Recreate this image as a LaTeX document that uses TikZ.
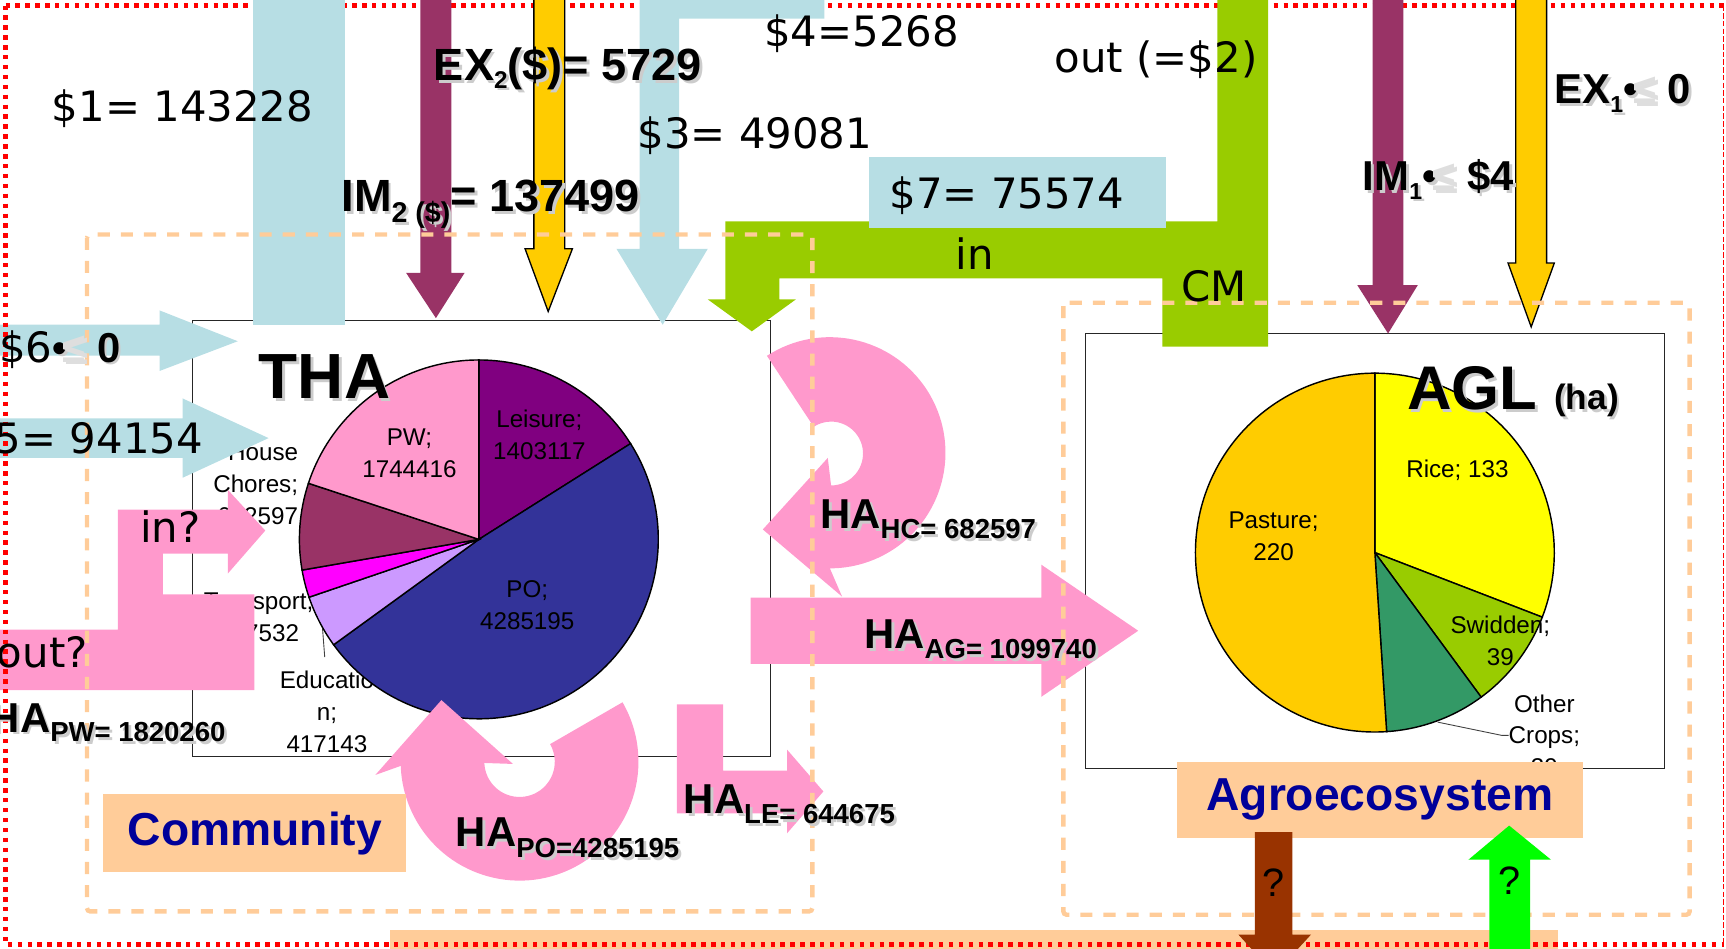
\documentclass[tikz,border=0pt]{standalone}
\usepackage{fontspec}
\setmainfont{Liberation Sans}
\newfontfamily\dejavu{DejaVu Sans}
\usepackage{xcolor}
\usepackage{tikz}
\usetikzlibrary{calc}

\definecolor{flowblue}{RGB}{183,222,228}
\definecolor{flowmaroon}{HTML}{993366}
\definecolor{flowyellow}{HTML}{FFCC00}
\definecolor{flowgreen}{HTML}{99CC00}
\definecolor{flowpink}{HTML}{FF99CC}
\definecolor{peach}{HTML}{FFCC99}
\definecolor{navytext}{HTML}{000099}
\definecolor{leisurec}{HTML}{800080}
\definecolor{poc}{HTML}{333399}
\definecolor{educ}{HTML}{CC99FF}
\definecolor{transc}{HTML}{FF00FF}
\definecolor{ricec}{HTML}{FFFF00}
\definecolor{otherc}{HTML}{339966}
\definecolor{soilbrown}{HTML}{993300}
\definecolor{limec}{HTML}{00FF00}

% lowered small text (drop, size, text)
\newcommand{\lowtxt}[3]{\raisebox{-#1pt}{\fontsize{#2}{#2}\selectfont #3}}
% grey drop shadow behind bold labels
\newcommand{\shadowed}[1]{\makebox[0pt][l]{\hspace{2.5pt}\raisebox{-2.5pt}{\color{black!20}#1}}#1}
% faint leftover of the less-or-equal sign
\newcommand{\faintle}{\kern-4pt{\color{black!13}≤}}
% one pie wedge: centre, from, to, radius, colour
\newcommand{\pieslice}[5]{\filldraw[slice, fill=#5] (#1) -- ++(#2:#4) arc[start angle=#2, end angle=#3, radius=#4] -- cycle;}

\begin{document}
\begin{tikzpicture}[
  x=1pt, y=-1pt,
  lbl/.style={inner sep=0pt, font=\dejavu\fontsize{38}{40}\selectfont},
  bold/.style={inner sep=0pt, font=\bfseries\fontsize{38}{40}\selectfont},
  bigbold/.style={inner sep=0pt, font=\bfseries\fontsize{41}{43}\selectfont},
  pielbl/.style={inner sep=0pt, align=center, font=\fontsize{22}{29}\selectfont},
  slice/.style={draw=black, line width=1.3pt},
  chartbox/.style={draw=black!85, line width=1.3pt},
  zone/.style={draw=peach, line width=4pt, dash pattern=on 11pt off 10pt, rounded corners=3pt},
  tag/.style={fill=peach, inner sep=0pt, text=navytext, font=\bfseries\fontsize{42}{44}\selectfont},
  qmark/.style={inner sep=0pt, font=\fontsize{36}{38}\selectfont},
  edged/.style={draw=black, line width=1.2pt},
  frameline/.style={draw=red, line width=4pt, dash pattern=on 4pt off 5pt},
  leader/.style={draw=black!75, line width=0.8pt}
]

\useasboundingbox (0,0) rectangle (1568,862);
\clip (0,0) rectangle (1568,862);

% Bottom strip and upper frame line
\fill[peach] (354,845) rectangle (1415,870);
\draw[frameline] (5,5) -- (1566,5);

% THA chart
\draw[chartbox] (175,291) rectangle (700,687);
\node[pielbl, align=right, anchor=east] (hclbl) at (271,440) {House\\Chores;\\682597};
\node[pielbl] (trlbl) at (235,561) {Transport;\\217532};
\node[pielbl] (edlbl) at (297,647) {Educatio\\n;\\417143};
\coordinate (edtip) at (293,571);
\coordinate (edfoot) at (295,597);
\draw[leader] (edtip) -- (edfoot);

\coordinate (thac) at (435,490);
\pieslice{thac}{90}{32.27}{163pt}{leisurec}
\pieslice{thac}{32.27}{-144.03}{163pt}{poc}
\pieslice{thac}{-144.03}{-161.19}{163pt}{educ}
\pieslice{thac}{-161.19}{-170.14}{163pt}{transc}
\pieslice{thac}{-170.14}{-198.22}{163pt}{flowmaroon}
\pieslice{thac}{-198.22}{-270}{163pt}{flowpink}

\node[pielbl] (leislbl) at (490,395) {Leisure;\\1403117};
\node[pielbl] (pwlbl) at (372,412) {PW;\\1744416};
\node[pielbl] (polbl) at (479,550) {PO;\\4285195};
\node[inner sep=0pt, anchor=base west, font=\bfseries\fontsize{58}{60}\selectfont] (tha) at (235,362) {\shadowed{THA}};

% AGL chart
\draw[chartbox] (986,303) rectangle (1512,698);
\coordinate (aglc) at (1249,502);
\pieslice{aglc}{90}{-21.09}{163pt}{ricec}
\pieslice{aglc}{-21.09}{-53.67}{163pt}{flowgreen}
\pieslice{aglc}{-53.67}{-86.24}{163pt}{otherc}
\pieslice{aglc}{-86.24}{-270}{163pt}{flowyellow}

\node[pielbl] (ricelbl) at (1324,427) {Rice; 133};
\node[pielbl] (pastlbl) at (1157,487) {Pasture;\\220};
\node[pielbl] (swidlbl) at (1363,582) {Swidden;\\39};
\node[pielbl] (othlbl) at (1403,668) {Other\\Crops;\\39};
\coordinate (othtip) at (1306,656);
\draw[leader] (othtip) -- (1364,668) -- (othlbl.west);
\node[inner sep=0pt, anchor=base west] (agl) at (1278,372)
  {\bfseries\shadowed{\fontsize{56}{60}\selectfont AGL \fontsize{32}{34}\selectfont(ha)}};

% Money flows
\fill[flowblue] (230,-5) rectangle (313,295);
\fill[flowblue] (581,-5) -- (749,-5) -- (749,17) -- (617,17) -- (617,226) -- (643,226)
  -- (602,295) -- (560,226) -- (581,226) -- cycle;
\fill[flowblue] (-5,295) -- (145,295) -- (145,282) -- (216,310) -- (145,337) -- (145,323) -- (-5,323) -- cycle;
\fill[flowblue] (-5,380) -- (166,380) -- (166,362) -- (244,398) -- (166,434) -- (166,416) -- (-5,416) -- cycle;

% Imports and exports
\fill[flowmaroon] (382,-5) -- (410,-5) -- (410,248) -- (422,248) -- (396,289) -- (369,248) -- (382,248) -- cycle;
\filldraw[fill=flowyellow, edged] (485,-5) -- (513,-5) -- (513,226) -- (520,226) -- (498,283) -- (477,226) -- (485,226) -- cycle;
\fill[flowmaroon] (1247,-5) -- (1275,-5) -- (1275,259) -- (1288,259) -- (1261,303) -- (1233,259) -- (1247,259) -- cycle;
\filldraw[fill=flowyellow, edged] (1377,-5) -- (1405,-5) -- (1405,239) -- (1412,239) -- (1391,297) -- (1370,239) -- (1377,239) -- cycle;

% Commodity flow
\fill[flowgreen] (1106,-5) -- (1152,-5) -- (1152,315) -- (1056,315) -- (1056,253) -- (708,253) -- (708,272)
  -- (723,272) -- (683,301) -- (643,272) -- (659,272) -- (659,201) -- (1106,201) -- cycle;
\fill[flowblue] (789,143) rectangle (1059,207);

% Human activity flows
\fill[flowpink] (-5,572) -- (107,572) -- (107,463) -- (207,463) -- (207,445) -- (241,482) -- (207,521)
  -- (207,503) -- (148,503) -- (148,540) -- (231,540) -- (231,627) -- (-5,627) -- cycle;
\fill[flowpink] (682,543) -- (946,543) -- (946,513) -- (1034,573) -- (946,633) -- (946,603) -- (682,603) -- cycle;
\fill[flowpink] (615,640) -- (657,640) -- (657,700) -- (715,700) -- (715,681) -- (748,719) -- (715,757)
  -- (715,739) -- (615,739) -- cycle;
\coordinate (hcc) at (755,413);
\fill[flowpink] ($(hcc)+(123:107pt)$) arc[start angle=123, end angle=-90, radius=105pt]
  -- (765,542) -- (693,481) -- (752,416)
  -- ($(hcc)+(-90:28pt)$) arc[start angle=-90, end angle=123, radius=29pt] -- cycle;
\coordinate (pocen) at (472,692);
\fill[flowpink] ($(pocen)+(30:108pt)$) arc[start angle=30, end angle=-178, radius=108pt]
  -- (341,704) -- (401,636) -- (466,694)
  -- ($(pocen)+(-178:32pt)$) arc[start angle=-178, end angle=30, radius=32pt] -- cycle;

% System boundaries
\draw[zone] (79,213) rectangle (738,828);
\draw[zone] (966,275) rectangle (1535,831);
\draw[frameline] (5,5) -- (5,858) -- (1566,858);
\draw[red, line width=1pt, dash pattern=on 5pt off 2pt] (1566,5) -- (1566,858);

% Labels
\node[lbl, anchor=base west] (d1) at (47,110) {\$1= 143228};
\node[bigbold, anchor=base west] (ex2) at (394,73) {\shadowed{EX\lowtxt{7}{22}{2}(\$)= 5729}};
\node[lbl, anchor=base west] (d4) at (694,42) {\$4=5268};
\node[lbl, anchor=base west] (outd2) at (958,66) {out (=\$2)};
\node[lbl, anchor=base west] (d3) at (579,135) {\$3= 49081};
\node[bigbold, anchor=base west] (im2) at (310,192) {\shadowed{IM\lowtxt{10}{26}{2 (\$)}= 137499}};
\node[lbl, anchor=base west] (d7) at (808,189) {\$7= 75574};
\node[bold, anchor=base west] (im1) at (1238,173) {\shadowed{IM\lowtxt{8}{21}{1}•\faintle{} \$4}};
\node[bold, anchor=base west] (ex1) at (1412,94) {\shadowed{EX\lowtxt{8}{21}{1}•\faintle{} 0}};
\node[lbl, anchor=base west] (cmin) at (868,245) {in};
\node[lbl, anchor=base west] (cm) at (1073,274) {CM};
\node[lbl, anchor=base west] (d6) at (-1,329)
  {\$6{\normalfont\bfseries\fontsize{38}{40}\selectfont\shadowed{•\faintle{} 0}}};
\node[lbl, anchor=base west] (d5) at (-29,412) {\$5= 94154};
\node[lbl, anchor=base west] (hain) at (127,493) {in?};
\node[lbl, anchor=base west] (haout) at (-3,606) {out?};

\node[bold, anchor=base east] (hapw) at (205,665) {\shadowed{HA\lowtxt{9}{25}{PW= 1820260}}};
\node[bold, anchor=base west] (hahc) at (745,480) {\shadowed{HA\lowtxt{9}{25}{HC= 682597}}};
\node[bold, anchor=base west] (haag) at (785,589) {\shadowed{HA\lowtxt{9}{25}{AG= 1099740}}};
\node[bold, anchor=base west] (hale) at (621,739) {\shadowed{HA\lowtxt{9}{25}{LE= 644675}}};
\node[bold, anchor=base west] (hapo) at (414,769) {\shadowed{HA\lowtxt{10}{25}{PO=4285195}}};

% Subsystem tags
\node[tag, minimum width=275pt, minimum height=71pt] (community) at (231.5,757) {Community};
\node[tag, minimum width=369pt, minimum height=69pt] (agro) at (1253.5,726.5) {Agroecosystem};

% Exchanges with the surroundings
\fill[soilbrown] (1140,756) -- (1174,756) -- (1174,849) -- (1191,849) -- (1158,885) -- (1125,849) -- (1140,849) -- cycle;
\fill[limec] (1353,870) -- (1353,781) -- (1334,781) -- (1371,750) -- (1409,781) -- (1390,781) -- (1390,870) -- cycle;
\node[qmark] (qout) at (1157,802) {?};
\node[qmark] (qin) at (1371,800) {?};

\end{tikzpicture}
\end{document}
